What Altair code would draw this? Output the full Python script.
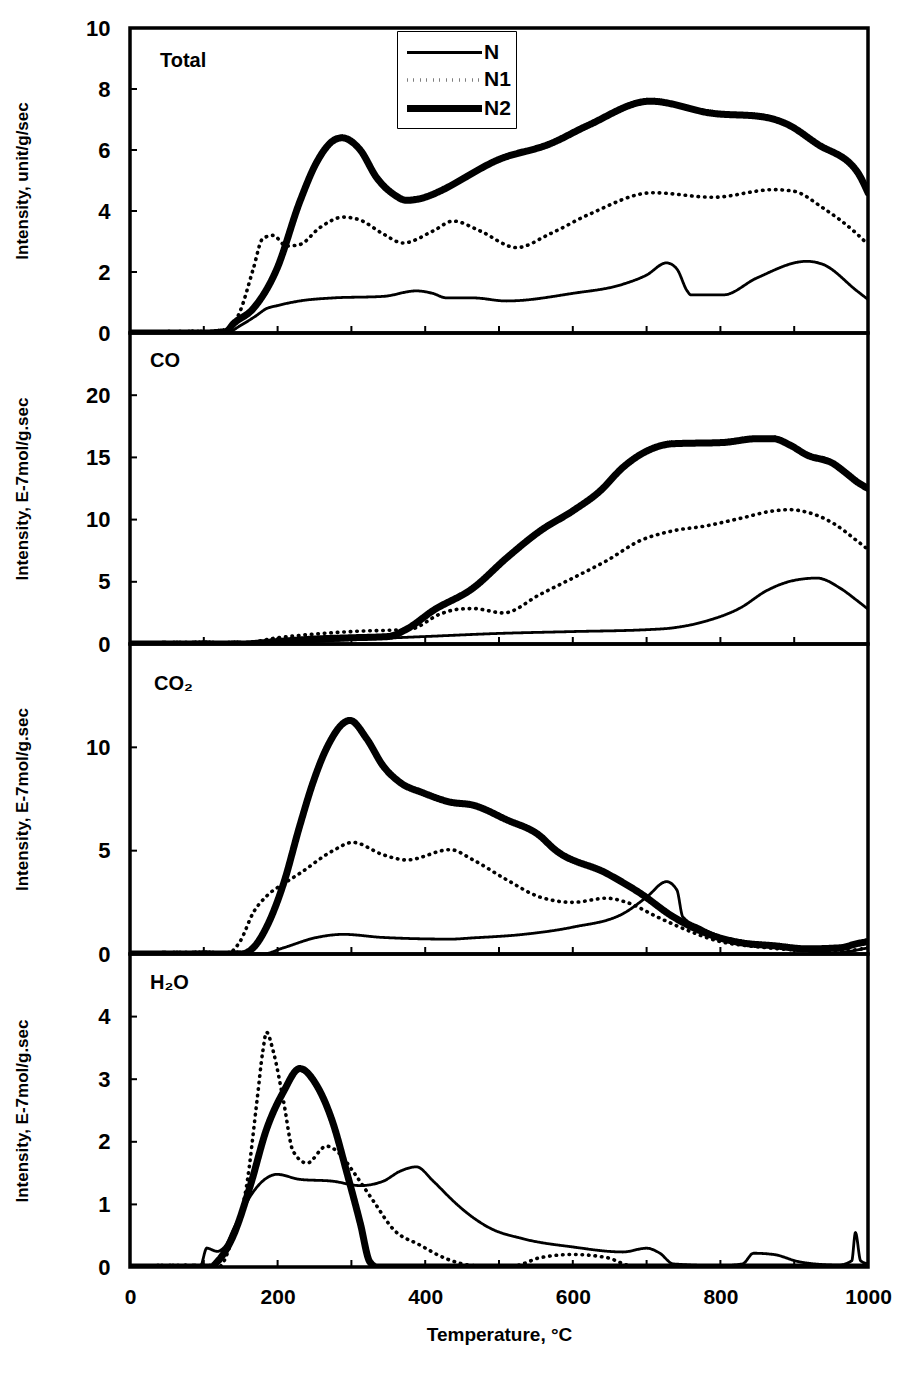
import altair as alt
import pandas as pd

FONT = "Liberation Sans"
SERIES = ["N", "N1", "N2"]

# ---------------- Total ----------------
tot_N_T = [0, 100, 130, 150, 170, 185, 200, 230, 275, 343, 388, 410, 429, 465, 510, 600, 668, 700, 727, 741, 755, 760, 804, 849, 917, 939, 985, 1000]
tot_N_V = [0, 0, 0, 0.25, 0.55, 0.8, 0.9, 1.05, 1.15, 1.2, 1.38, 1.3, 1.15, 1.15, 1.05, 1.3, 1.6, 1.9, 2.3, 2.1, 1.38, 1.25, 1.25, 1.8, 2.35, 2.25, 1.38, 1.1]
tot_N1_T = [0, 100, 130, 149, 167, 180, 194, 212, 230, 257, 289, 312, 343, 370, 411, 438, 474, 524, 569, 623, 709, 790, 872, 899, 939, 985, 1000]
tot_N1_V = [0, 0, 0.05, 0.7, 2.1, 3.1, 3.2, 2.85, 2.9, 3.45, 3.8, 3.7, 3.25, 2.95, 3.35, 3.67, 3.35, 2.8, 3.25, 3.9, 4.6, 4.45, 4.7, 4.65, 4.1, 3.25, 2.9]
tot_N2_T = [0, 100, 130, 140, 167, 199, 230, 253, 275, 287, 312, 334, 357, 375, 411, 420, 501, 569, 620, 705, 790, 854, 890, 931, 985, 1000]
tot_N2_V = [0, 0, 0.05, 0.3, 0.8, 2.1, 4.3, 5.6, 6.3, 6.4, 6.0, 5.1, 4.55, 4.35, 4.55, 4.65, 5.7, 6.2, 6.8, 7.6, 7.2, 7.1, 6.85, 6.2, 5.3, 4.6]

# ---------------- CO ----------------
co_N_T = [0, 150, 200, 250, 300, 400, 500, 600, 700, 736, 781, 827, 863, 899, 931, 962, 985, 1000]
co_N_V = [0, 0, 0.05, 0.2, 0.35, 0.6, 0.85, 1.0, 1.15, 1.3, 1.85, 2.9, 4.3, 5.1, 5.3, 4.5, 3.5, 2.8]
co_N1_T = [0, 150, 200, 250, 300, 380, 420, 445, 465, 506, 556, 600, 646, 691, 736, 781, 827, 872, 894, 917, 953, 985, 1000]
co_N1_V = [0, 0.05, 0.5, 0.8, 1.0, 1.2, 2.4, 2.8, 2.85, 2.5, 4.0, 5.3, 6.7, 8.3, 9.1, 9.5, 10.1, 10.7, 10.8, 10.6, 9.7, 8.3, 7.6]
co_N2_T = [0, 150, 200, 250, 300, 350, 375, 411, 465, 510, 556, 600, 637, 668, 700, 736, 804, 849, 872, 894, 917, 953, 971, 986, 1000]
co_N2_V = [0, 0, 0.2, 0.4, 0.5, 0.6, 1.2, 2.7, 4.5, 6.9, 9.1, 10.7, 12.3, 14.2, 15.5, 16.1, 16.2, 16.5, 16.5, 16.0, 15.2, 14.5, 13.7, 13.0, 12.5]

# ---------------- CO2 ----------------
co2_N_T = [0, 180, 208, 253, 289, 343, 434, 465, 533, 600, 668, 700, 727, 741, 749, 772, 804, 850, 900, 950, 1000]
co2_N_V = [0, 0, 0.3, 0.8, 0.95, 0.8, 0.72, 0.78, 0.95, 1.3, 1.95, 2.75, 3.5, 3.1, 1.8, 1.3, 0.8, 0.5, 0.25, 0.05, 0.3]
co2_N1_T = [0, 130, 149, 167, 185, 208, 230, 275, 302, 343, 375, 434, 465, 510, 556, 600, 646, 673, 714, 745, 800, 850, 900, 950, 1000]
co2_N1_V = [0, 0, 0.6, 2.0, 2.8, 3.4, 3.9, 5.0, 5.4, 4.8, 4.55, 5.05, 4.55, 3.6, 2.75, 2.5, 2.7, 2.5, 1.8, 1.3, 0.6, 0.35, 0.2, 0.1, 0.3]
co2_N2_T = [0, 150, 167, 185, 208, 230, 248, 267, 298, 321, 343, 366, 397, 434, 465, 510, 556, 574, 646, 691, 736, 781, 827, 872, 917, 962, 985, 1000]
co2_N2_V = [0, 0, 0.3, 1.3, 3.4, 6.2, 8.3, 10.0, 11.3, 10.4, 9.1, 8.3, 7.8, 7.35, 7.2, 6.5, 5.7, 5.1, 3.9, 2.95, 1.8, 1.0, 0.55, 0.4, 0.25, 0.3, 0.5, 0.6]

# ---------------- H2O ----------------
h2o_N_T = [0, 95, 104, 118, 130, 140, 167, 185, 199, 230, 275, 312, 343, 366, 388, 411, 434, 443, 488, 533, 600, 668, 700, 718, 736, 800, 830, 845, 872, 908, 960, 978, 983, 990, 1000]
h2o_N_V = [0, 0, 0.3, 0.25, 0.35, 0.6, 1.2, 1.42, 1.48, 1.4, 1.37, 1.3, 1.37, 1.53, 1.6, 1.37, 1.1, 1.0, 0.62, 0.45, 0.32, 0.24, 0.3, 0.22, 0.05, 0.02, 0.05, 0.22, 0.2, 0.08, 0.03, 0.1, 0.55, 0.1, 0.05]
h2o_N1_T = [0, 120, 140, 158, 172, 180, 185, 194, 208, 221, 240, 266, 285, 302, 330, 357, 393, 429, 470, 520, 556, 600, 646, 680, 1000]
h2o_N1_V = [0, 0, 0.5, 1.3, 2.65, 3.45, 3.75, 3.45, 2.65, 1.85, 1.66, 1.93, 1.8, 1.53, 1.05, 0.6, 0.35, 0.13, 0.02, 0.02, 0.15, 0.2, 0.15, 0.02, 0]
h2o_N2_T = [0, 110, 118, 140, 163, 185, 208, 230, 253, 275, 294, 312, 325, 335, 1000]
h2o_N2_V = [0, 0, 0.08, 0.5, 1.3, 2.2, 2.8, 3.17, 2.9, 2.3, 1.5, 0.7, 0.08, 0, 0]

X_LABELS = [0, 200, 400, 600, 800, 1000]
X_MINOR = [100, 200, 300, 400, 500, 600, 700, 800, 900]

W = 738


def panel(name, label_xy, ytitle, ydomain, yvals, data, H, show_x, show_legend):
    rows = []
    for s, (ts, vs) in zip(SERIES, data):
        for t, v in zip(ts, vs):
            rows.append({"T": t, "value": v, "series": s})
    df = pd.DataFrame(rows)

    if show_x:
        xaxis = alt.Axis(values=X_LABELS, format="d", ticks=False, domain=False, grid=False,
                         labelFontSize=21, labelFont=FONT, labelFontWeight="bold",
                         labelColor="black", labelPadding=19, labelFlush=False,
                         title="Temperature, °C", titleFontSize=19, titleFont=FONT,
                         titleFontWeight="bold", titleColor="black", titlePadding=18)
    else:
        xaxis = None
    X = alt.X("T:Q", scale=alt.Scale(domain=[0, 1000], nice=False, zero=False), axis=xaxis)
    yaxis = alt.Axis(values=yvals, ticks=False, domain=False, grid=False,
                     labelFontSize=22, labelFont=FONT, labelFontWeight="bold",
                     labelColor="black", labelPadding=20,
                     title=ytitle, titleFontSize=17, titleFont=FONT, titleFontWeight="bold",
                     titleColor="black", titleX=-99)
    Y = alt.Y("value:Q", scale=alt.Scale(domain=ydomain, nice=False), axis=yaxis)

    if show_legend:
        legend = alt.Legend(orient="none", legendX=267, legendY=3, title=None,
                            symbolType="M-2.5,0L2.5,0", symbolSize=900,
                            symbolStrokeColor="black", symbolFillColor="transparent",
                            symbolOffset=24, labelOffset=21,
                            labelFontSize=21, labelFont=FONT, labelFontWeight="bold",
                            labelColor="black", strokeColor="black",
                            fillColor="white", padding=5, rowPadding=0)
    else:
        legend = None

    lines = alt.Chart(df).mark_line(interpolate="monotone", color="black",
                                    strokeCap="round", strokeJoin="round", clip=True).encode(
        x=X, y=Y,
        strokeDash=alt.StrokeDash("series:N", scale=alt.Scale(domain=SERIES, range=[[1, 0], [0.5, 6], [1, 0]]), legend=legend),
        strokeWidth=alt.StrokeWidth("series:O", scale=alt.Scale(type="ordinal", domain=SERIES, range=[2.8, 3.6, 7]), legend=legend),
    )
    xt = alt.Chart(pd.DataFrame({"T": X_MINOR})).mark_rule(color="black", strokeWidth=2).encode(
        x=X, y=alt.value(H - 7), y2=alt.value(H))
    yt = alt.Chart(pd.DataFrame({"value": yvals})).mark_rule(color="black", strokeWidth=2).encode(
        y=Y, x=alt.value(0), x2=alt.value(7))
    lab = alt.Chart(pd.DataFrame({"label": [name]})).mark_text(
        align="left", baseline="middle", fontSize=20, font=FONT, fontWeight="bold", color="black"
    ).encode(text="label:N", x=alt.value(label_xy[0]), y=alt.value(label_xy[1]))
    return alt.layer(lines, xt, yt, lab).properties(width=W, height=H)


p1 = panel("Total", (30, 33), "Intensity, unit/g/sec", [0, 10], [0, 2, 4, 6, 8, 10],
           [(tot_N_T, tot_N_V), (tot_N1_T, tot_N1_V), (tot_N2_T, tot_N2_V)], 305, False, True)
p2 = panel("CO", (20, 28), "Intensity, E-7mol/g.sec", [0, 25], [0, 5, 10, 15, 20],
           [(co_N_T, co_N_V), (co_N1_T, co_N1_V), (co_N2_T, co_N2_V)], 311, False, False)
p3 = panel("CO₂", (24, 40), "Intensity, E-7mol/g.sec", [0, 15], [0, 5, 10],
           [(co2_N_T, co2_N_V), (co2_N1_T, co2_N1_V), (co2_N2_T, co2_N2_V)], 310, False, False)
p4 = panel("H₂O", (20, 29), "Intensity, E-7mol/g.sec", [0, 5], [0, 1, 2, 3, 4],
           [(h2o_N_T, h2o_N_V), (h2o_N1_T, h2o_N1_V), (h2o_N2_T, h2o_N2_V)], 313, True, False)

chart = alt.vconcat(p1, p2, p3, p4, spacing=0, bounds="flush").resolve_scale(
    strokeDash="independent", strokeWidth="independent", y="independent"
).resolve_legend(
    strokeDash="independent", strokeWidth="independent"
).properties(
    padding={"left": 11, "top": 15, "right": 0, "bottom": 0},
    background="white",
).configure_view(stroke="black", strokeWidth=3.5)

chart.save("out.html", embed_options={"renderer": "svg", "actions": False})
